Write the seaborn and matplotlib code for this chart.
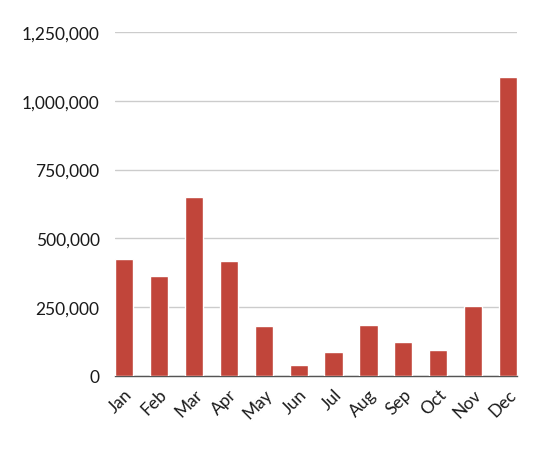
import matplotlib
matplotlib.use("Agg")
import matplotlib.pyplot as plt
import matplotlib.ticker as mticker
import seaborn as sns
import pandas as pd

months = ["Jan", "Feb", "Mar", "Apr", "May", "Jun", "Jul", "Aug", "Sep", "Oct", "Nov", "Dec"]
values = [425000, 363000, 650000, 417000, 182000, 39000, 88000, 184000, 125000, 96000, 254000, 1086000]
y_ticks = [0, 250000, 500000, 750000, 1000000, 1250000]

df = pd.DataFrame({"month": months, "value": values})

sns.set_theme(style="white")
plt.rcParams["font.family"] = ["Lato", "DejaVu Sans"]

fig = plt.figure(figsize=(5.58, 4.52), dpi=100)
ax = fig.add_axes([0.206, 0.166, 0.721, 0.761])

sns.barplot(data=df, x="month", y="value", color="#c1453a", saturation=1,
            width=0.52, ax=ax, zorder=3)

ax.set_xlim(-0.26, 11.26)
ax.set_ylim(0, 1250000)
ax.set_yticks(y_ticks)
ax.yaxis.set_major_formatter(mticker.FuncFormatter(lambda v, p: f"{int(v):,}"))
ax.grid(axis="y", color="#cccccc", linewidth=1, zorder=0)
ax.set_xlabel("")
ax.set_ylabel("")

for s in ["top", "right", "left"]:
    ax.spines[s].set_visible(False)
ax.spines["bottom"].set_color("#555555")
ax.spines["bottom"].set_linewidth(1)

ax.tick_params(axis="y", length=0, pad=11, labelsize=12.5, labelcolor="#1a1a1a")
ax.tick_params(axis="x", length=0, pad=7, labelsize=12.5, labelcolor="#1a1a1a")
for lab in ax.get_xticklabels():
    lab.set_rotation(45)
    lab.set_ha("right")
    lab.set_rotation_mode("anchor")

fig.savefig("out.png", dpi=100, facecolor="white")
